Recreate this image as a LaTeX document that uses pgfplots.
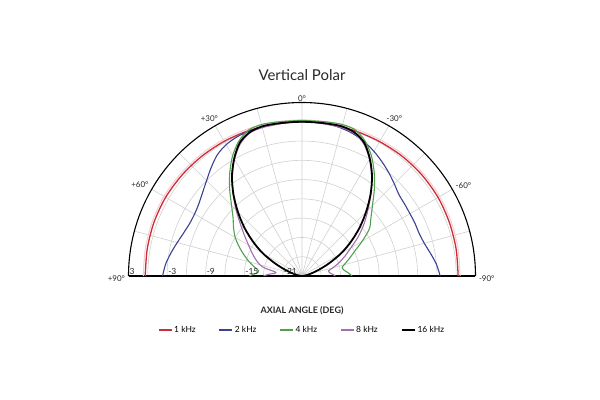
\documentclass[border=0pt]{standalone}
\usepackage{fontspec}
\setmainfont{Lato}
\usepackage{pgfplots}
\usepgfplotslibrary{polar}
\pgfplotsset{compat=1.18}
\usepackage{pgfplotstable}

\definecolor{c1}{RGB}{205,45,55}
\definecolor{c1s}{RGB}{245,205,210}
\definecolor{c2}{RGB}{60,65,145}
\definecolor{c4}{RGB}{80,160,80}
\definecolor{c8}{RGB}{165,110,175}
\definecolor{gridc}{RGB}{208,208,208}
\definecolor{txt}{RGB}{40,40,40}

% angle a in degrees (+90 = left, -90 = right), level in dB
\pgfplotstableread{
a db
-90 0.3
-80 0.35
-70 0.4
-60 0.45
-50 0.4
-40 0.3
-30 0.15
-20 0.05
-10 0
0 0
10 0
20 0.1
30 0.2
40 0.3
50 0.4
60 0.5
70 0.5
80 0.45
90 0.4
}\redt

\pgfplotstableread{
a db
-90 -2.5
-85 -3.0
-80 -3.7
-75 -4.3
-70 -4.6
-65 -4.6
-60 -4.6
-55 -4.5
-50 -4.3
-45 -3.7
-40 -3.0
-35 -2.3
-30 -1.6
-25 -1.0
-20 -0.5
-15 -0.2
-10 0
-5 0
0 0
5 0
10 0
15 0
20 0
25 -0.1
30 -0.4
35 -1.0
40 -2.0
45 -3.0
50 -3.8
55 -4.4
60 -4.7
65 -4.7
70 -4.4
75 -3.9
80 -3.3
85 -2.7
90 -2.3
}\bluet

\pgfplotstableread{
a db
-90 -16.2
-86 -16.8
-82 -17.4
-78 -17.6
-75 -17.2
-70 -16.2
-65 -15.0
-60 -13.2
-55 -11.2
-50 -10.0
-45 -8.5
-40 -6.5
-35 -4.4
-30 -2.4
-25 -0.8
-20 0.2
-15 0.4
-10 0.3
-5 0.2
0 0.2
5 0.2
10 0.3
15 0.4
20 0.2
25 -0.8
30 -2.4
35 -4.4
40 -6.5
45 -8.5
50 -10.0
55 -11.0
60 -12.0
65 -13.2
70 -14.4
75 -15.5
80 -16.6
83 -17.2
86 -17.0
88 -16.4
90 -15.8
}\greent

\pgfplotstableread{
a db
-90 -18.8
-87 -19.2
-83 -19.7
-79 -19.8
-75 -19.0
-70 -17.8
-65 -16.6
-60 -15.2
-55 -13.3
-50 -11.4
-45 -9.5
-40 -7.3
-35 -5.1
-30 -3.0
-25 -1.3
-20 -0.3
-15 -0.1
-10 -0.1
-5 0
0 0
5 0
10 -0.1
15 -0.1
20 -0.3
25 -1.3
30 -3.0
35 -5.1
40 -7.3
45 -9.5
50 -11.5
55 -13.1
60 -14.4
65 -15.4
70 -16.3
75 -17.2
78 -18.1
81 -19.7
84 -19.8
87 -18.8
90 -18.0
}\purplet

\pgfplotstableread{
a db
-90 -24
-85 -23.8
-80 -23.3
-75 -22.6
-70 -21.3
-65 -19.4
-60 -17.0
-55 -14.7
-50 -12.3
-45 -9.9
-40 -7.4
-35 -5.0
-30 -2.9
-25 -1.1
-20 -0.2
-15 0.1
-10 0.05
-5 0
0 0
5 0
10 0.05
15 0.1
20 -0.2
25 -1.1
30 -2.9
35 -5.0
40 -7.4
45 -9.9
50 -12.3
55 -14.7
60 -17.0
65 -19.4
70 -21.3
75 -22.6
80 -23.3
85 -23.8
90 -24
}\blackt

\begin{document}
\begin{tikzpicture}
\begin{polaraxis}[
  scale only axis, width=347bp,
  xmin=0, xmax=180, ymin=0, ymax=27,
  xtick={0,15,...,180},
  xticklabels={-90\textdegree,,-60\textdegree,,-30\textdegree,,0\textdegree,,+30\textdegree,,+60\textdegree,,+90\textdegree},
  ytick={3,6,...,24},
  yticklabels={},
  grid=major,
  major grid style={gridc, line width=0.6bp},
  axis line style={black, line width=1.1bp},
  major tick length=0pt,
  tick label style={font=\fontsize{8}{10}\selectfont, text=txt},
  xticklabel style={yshift=-2.5bp},
  legend style={at={(0.5,-0.265)}, anchor=north, draw=none, fill=none,
    legend columns=5, font=\fontsize{8.5}{10}\selectfont,
    /tikz/every even column/.append style={column sep=21bp}},
  legend image code/.code={\draw[#1] (0bp,0bp) -- (13bp,0bp);},
]
\addplot[c1s, line width=1.0bp, smooth, forget plot] table[x expr=90+\thisrow{a}, y expr=\thisrow{db}+24.3]{\redt};
\addplot[c1, line width=1.3bp, smooth] table[x expr=90+\thisrow{a}, y expr=\thisrow{db}+24]{\redt};
\addlegendentry{1 kHz}
\addplot[c2, line width=1.1bp, smooth] table[x expr=90+\thisrow{a}, y expr=\thisrow{db}+24]{\bluet};
\addlegendentry{2 kHz}
\addplot[c4, line width=1.1bp, smooth] table[x expr=90+\thisrow{a}, y expr=\thisrow{db}+24]{\greent};
\addlegendentry{4 kHz}
\addplot[c8, line width=1.1bp, smooth] table[x expr=90+\thisrow{a}, y expr=\thisrow{db}+24]{\purplet};
\addlegendentry{8 kHz}
\addplot[black, line width=1.8bp, smooth] table[x expr=90+\thisrow{a}, y expr=\thisrow{db}+24]{\blackt};
\addlegendentry{16 kHz}

\coordinate (C) at (axis cs:0,0);
\begin{scope}[every node/.style={font=\fontsize{8.5}{10}\selectfont, text=txt, inner sep=1bp}]
\node[anchor=south west] at (axis cs:180,27) {3};
\node[anchor=south west] at (axis cs:180,21) {-3};
\node[anchor=south west] at (axis cs:180,15) {-9};
\node[anchor=south west] at (axis cs:180,9) {-15};
\node[anchor=south west] at (axis cs:180,3) {-21};
\node[anchor=north, yshift=-6bp] at (axis cs:180,24) {0};
\node[anchor=north, yshift=-6bp] at (axis cs:180,18) {-6};
\node[anchor=north, yshift=-6bp] at (axis cs:180,12) {-12};
\node[anchor=north, yshift=-6bp] at (axis cs:180,6) {-18};
\node[anchor=north, yshift=-6bp] at (axis cs:0,0) {-24};
\end{scope}
\end{polaraxis}
\node[font=\fontsize{15}{18}\selectfont, text=txt] at ([yshift=201bp]C) {Vertical Polar};
\node[font=\fontsize{9}{11}\selectfont\bfseries, text=txt] at ([yshift=-35bp]C) {AXIAL ANGLE (DEG)};
\path ([xshift=-302bp,yshift=-124bp]C) rectangle ([xshift=298bp,yshift=276bp]C);
\end{tikzpicture}
\end{document}
